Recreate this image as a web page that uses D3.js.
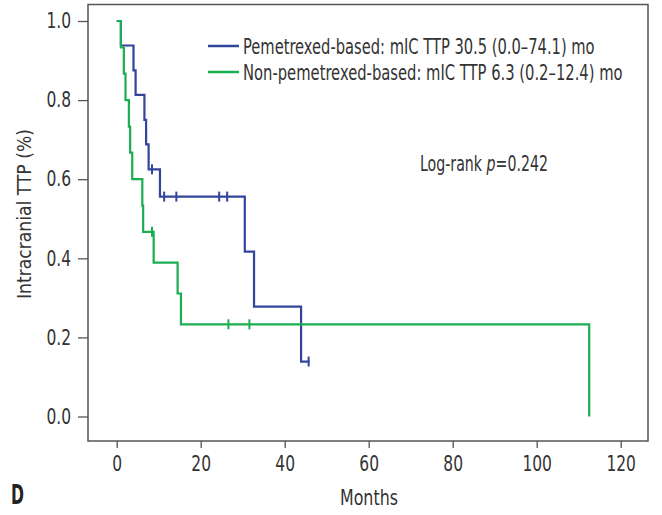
<!DOCTYPE html>
<html>
<head>
<meta charset="utf-8">
<script src="https://cdn.jsdelivr.net/npm/d3@7"></script>
<style>
  body { margin: 0; background: #fff; }
  text { font-family: "DejaVu Sans Condensed", "Liberation Sans", sans-serif; fill: #333; }
</style>
</head>
<body>
<svg id="chart" width="662" height="515"></svg>
<script>
  'use strict';

  // Kaplan-Meier steps: [month, survival].
  var pemSteps = [
    [0, 1.0], [1.0, 0.938], [4.0, 0.875], [4.5, 0.813], [6.6, 0.75],
    [7.0, 0.688], [7.6, 0.625], [10.3, 0.556], [30.5, 0.417],
    [32.7, 0.278], [43.9, 0.139], [45.9, 0.139]
  ];
  var pemCensored = [
    [8.4, 0.625], [11.3, 0.556], [14.2, 0.556], [24.4, 0.556],
    [26.3, 0.556], [45.7, 0.139]
  ];

  var nonSteps = [
    [0, 1.0], [1.0, 0.933], [1.7, 0.867], [2.1, 0.8], [2.9, 0.733],
    [3.2, 0.667], [3.7, 0.6], [6.1, 0.533], [6.3, 0.467], [8.8, 0.389],
    [14.5, 0.311], [15.3, 0.233], [112.5, 0.0]
  ];
  var nonCensored = [
    [8.4, 0.467], [26.6, 0.233], [31.6, 0.233]
  ];

  var xTicks = [0, 20, 40, 60, 80, 100, 120],
      yTicks = [0, 0.2, 0.4, 0.6, 0.8, 1.0];

  var legendLabels = [
    'Pemetrexed-based: mIC TTP 30.5 (0.0\u201374.1) mo',
    'Non-pemetrexed-based: mIC TTP 6.3 (0.2\u201312.4) mo'
  ];
  var legendWidths = [352, 380];

  var blue  = '#33449b',
      green = '#1aae52',
      axisColor = '#555';

  var svg = d3.select( '#chart' );

  var x = d3.scaleLinear().domain( [0, 120] ).range( [116.7, 620.7] ),
      y = d3.scaleLinear().domain( [0, 1] ).range( [416.5, 21] );

  var frame = { left: 88, right: 648, top: 4.5, bottom: 441 };

  // The original uses a condensed face; squeeze text horizontally about its x.
  function squeezeTransform( tx, sx ) {
    return 'translate(' + tx + ',0) scale(' + sx + ',1) translate(' + ( -tx ) + ',0)';
  }

  function squeeze( sel, sx ) {
    sel.attr( 'transform', function() {
      return squeezeTransform( +d3.select( this ).attr( 'x' ) || 0, sx );
    });
  }

  // Squeeze a text so that it spans the given width.
  function fitWidth( sel, width ) {
    sel.each( function() {
      var sx = width / this.getComputedTextLength();
      d3.select( this ).call( squeeze, sx );
    });
  }

  // Plot frame.
  svg.append( 'rect' )
    .attr( 'x', frame.left )
    .attr( 'y', frame.top )
    .attr( 'width', frame.right - frame.left )
    .attr( 'height', frame.bottom - frame.top )
    .style( 'fill', 'none' )
    .style( 'stroke', axisColor )
    .style( 'stroke-width', 1.5 );

  // Axes.
  var xAxis = d3.axisBottom( x )
    .tickValues( xTicks )
    .tickSize( 7 )
    .tickPadding( 8 )
    .tickFormat( d3.format( 'd' ) );

  var yAxis = d3.axisLeft( y )
    .tickValues( yTicks )
    .tickSize( 10 )
    .tickPadding( 7 )
    .tickFormat( d3.format( '.1f' ) );

  var gx = svg.append( 'g' )
    .attr( 'transform', 'translate(0,' + frame.bottom + ')' )
    .call( xAxis );

  var gy = svg.append( 'g' )
    .attr( 'transform', 'translate(' + frame.left + ',0)' )
    .call( yAxis );

  [gx, gy].forEach( function( g ) {
    g.select( '.domain' ).remove();
    g.selectAll( '.tick line' )
      .style( 'stroke', axisColor )
      .style( 'stroke-width', 1.3 );
    g.selectAll( '.tick text' )
      .style( 'font-family', '"DejaVu Sans Condensed", sans-serif' )
      .style( 'font-size', '21px' )
      .style( 'fill', '#333' )
      .call( squeeze, 0.82 );
  });

  // Axis titles.
  svg.append( 'g' )
    .attr( 'transform', 'translate(31,214) rotate(-90)' )
    .append( 'text' )
      .attr( 'x', -85 )
      .style( 'font-size', '20px' )
      .text( 'Intracranial TTP (%)' )
      .call( fitWidth, 170 );

  svg.append( 'text' )
    .attr( 'x', 340 )
    .attr( 'y', 505 )
    .style( 'font-size', '21px' )
    .text( 'Months' )
    .call( fitWidth, 58 );

  svg.append( 'text' )
    .attr( 'x', 11 )
    .attr( 'y', 504 )
    .style( 'font-size', '27px' )
    .style( 'font-weight', 'bold' )
    .style( 'fill', '#222' )
    .text( 'D' )
    .call( fitWidth, 13 );

  // Survival curves.
  var line = d3.line()
    .x( function( d ) { return x( d[0] ); } )
    .y( function( d ) { return y( d[1] ); } )
    .curve( d3.curveStepAfter );

  function drawCurve( steps, censored, color ) {
    svg.append( 'path' )
      .datum( steps )
      .attr( 'd', line )
      .style( 'fill', 'none' )
      .style( 'stroke', color )
      .style( 'stroke-width', 2.2 );

    svg.selectAll( null )
      .data( censored )
      .enter()
      .append( 'line' )
        .attr( 'x1', function( d ) { return x( d[0] ); } )
        .attr( 'x2', function( d ) { return x( d[0] ); } )
        .attr( 'y1', function( d ) { return y( d[1] ) - 5; } )
        .attr( 'y2', function( d ) { return y( d[1] ) + 5; } )
        .style( 'stroke', color )
        .style( 'stroke-width', 2 );
  }

  drawCurve( pemSteps, pemCensored, blue );
  drawCurve( nonSteps, nonCensored, green );

  // Legend.
  var legend = svg.append( 'g' )
    .selectAll( 'g' )
    .data( legendLabels )
    .enter()
    .append( 'g' )
      .attr( 'transform', function( d, i ) {
        return 'translate(208,' + ( 46 + i * 26 ) + ')';
      });

  legend.append( 'line' )
    .attr( 'x1', 0 )
    .attr( 'x2', 31 )
    .style( 'stroke', function( d, i ) { return i ? green : blue; } )
    .style( 'stroke-width', 2.5 );

  legend.append( 'text' )
    .attr( 'x', 35 )
    .attr( 'dy', '0.36em' )
    .style( 'font-size', '21px' )
    .text( function( d ) { return d; } )
    .each( function( d, i ) {
      d3.select( this ).call( fitWidth, legendWidths[i] );
    });

  // Log-rank annotation.
  var logRank = svg.append( 'text' )
    .attr( 'x', 420 )
    .attr( 'y', 171 )
    .style( 'font-size', '21px' );

  logRank.append( 'tspan' ).text( 'Log-rank ' );
  logRank.append( 'tspan' ).style( 'font-style', 'italic' ).text( 'p' );
  logRank.append( 'tspan' ).text( '=0.242' );
  logRank.call( fitWidth, 128 );
</script>
</body>
</html>
